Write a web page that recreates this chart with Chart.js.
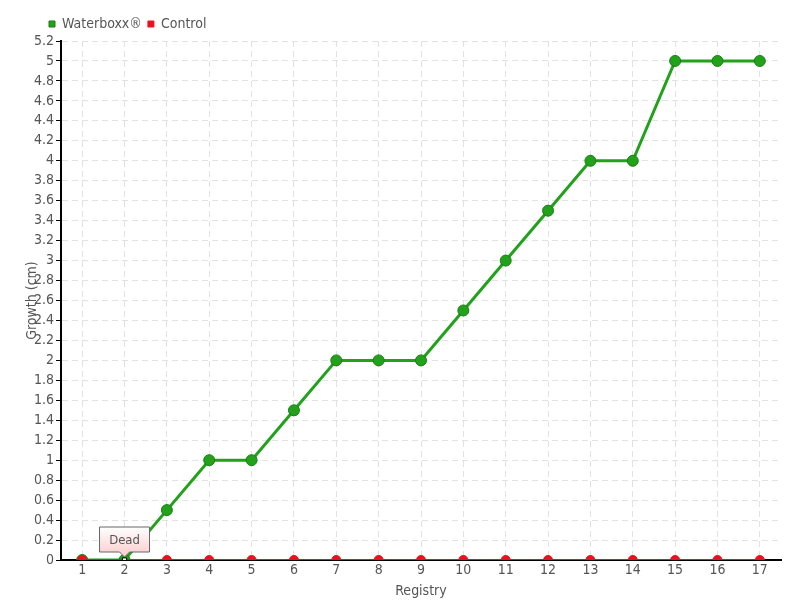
<!DOCTYPE html>
<html>
<head>
<meta charset="utf-8">
<script src="https://cdn.jsdelivr.net/npm/chart.js@4/dist/chart.umd.min.js"></script>
<style>
    body { margin: 0; background: #fff; }
    .wrap { width: 800px; height: 600px; }
</style>
</head>
<body>
<div class="wrap">
    <canvas id="growthChart" width="800" height="600"></canvas>
</div>
<script>
    // registry numbers on the x axis
    const registry = ['1', '2', '3', '4', '5', '6', '7', '8', '9', '10', '11', '12', '13', '14', '15', '16', '17']
    const waterboxx = [0, 0, 0.5, 1, 1, 1.5, 2, 2, 2, 2.5, 3, 3.5, 4, 4, 5, 5, 5]
    const control = [0, 0, 0, 0, 0, 0, 0, 0, 0, 0, 0, 0, 0, 0, 0, 0, 0]
    const notes = ['', 'Dead', '', '', '', '', '', '', '', '', '', '', '', '', '', '', '']

    const green = '#22a11b'
    const red = '#ec1020'
    const textColor = '#555'
    const fontFamily = "'DejaVu Sans Condensed', 'Liberation Sans Narrow', sans-serif"

    Chart.defaults.font.family = fontFamily
    Chart.defaults.font.size = 14
    Chart.defaults.color = textColor

    // little callout box above points that carry a note
    const noteBoxes = {
        id: 'noteBoxes',
        afterLayout(chart) {
            // push the legend in line with the plot, like the original
            chart.legend.left = 43
        },
        afterDatasetsDraw(chart) {
            const ctx = chart.ctx
            const xs = chart.scales.x
            const ys = chart.scales.y
            notes.forEach((txt, i) => {
                if (!txt) return
                const px = xs.getPixelForValue(i)
                const py = ys.getPixelForValue(control[i])
                const w = 50, h = 25
                const left = px - w / 2, top = py - 8 - h
                ctx.save()
                const grad = ctx.createLinearGradient(0, top, 0, top + h)
                grad.addColorStop(0, '#ffffff')
                grad.addColorStop(1, '#fbd3d3')
                ctx.beginPath()
                ctx.moveTo(left, top)
                ctx.lineTo(left + w, top)
                ctx.lineTo(left + w, top + h)
                ctx.lineTo(px + 5, top + h)
                ctx.lineTo(px, top + h + 5)
                ctx.lineTo(px - 5, top + h)
                ctx.lineTo(left, top + h)
                ctx.closePath()
                ctx.fillStyle = grad
                ctx.fill()
                ctx.strokeStyle = '#666'
                ctx.lineWidth = 1
                ctx.stroke()
                ctx.fillStyle = textColor
                ctx.font = '13px ' + fontFamily
                ctx.textAlign = 'center'
                ctx.textBaseline = 'middle'
                ctx.fillText(txt, px, top + h / 2 + 1)
                ctx.restore()
            })
        }
    }

    const data = {
        labels: registry,
        datasets: [{
            label: 'Waterboxx®',
            data: waterboxx,
            borderColor: green,
            backgroundColor: green,
            pointBackgroundColor: green,
            pointBorderColor: '#1a7d15',
            pointBorderWidth: 1,
            pointRadius: 5.5,
            borderWidth: 3,
            order: 1
        }, {
            label: 'Control',
            data: control,
            borderColor: red,
            backgroundColor: red,
            pointBackgroundColor: control.map((v, i) => notes[i] ? '#ffffff' : red),
            pointBorderColor: control.map((v, i) => notes[i] ? '#000000' : red),
            pointStyle: control.map((v, i) => notes[i] ? 'rect' : 'circle'),
            pointRadius: control.map((v, i) => notes[i] ? 3 : 4.5),
            pointBorderWidth: 1,
            borderWidth: 2,
            order: 0
        }]
    }

    const config = {
        type: 'line',
        data: data,
        options: {
            responsive: false,
            animation: false,
            layout: { padding: { left: 0, right: 19, top: 11, bottom: 0 } },
            plugins: {
                tooltip: { enabled: false },
                legend: {
                    align: 'start',
                    labels: {
                        usePointStyle: true,
                        pointStyle: 'rect',
                        boxWidth: 6,
                        boxHeight: 6,
                        padding: 6,
                        color: textColor,
                        sort: (a, b) => a.datasetIndex - b.datasetIndex
                    }
                }
            },
            scales: {
                x: {
                    offset: true,
                    grid: {
                        offset: false,
                        color: '#e2e2e2',
                        tickLength: 2,
                        tickColor: 'rgba(0,0,0,0)'
                    },
                    border: { color: '#000', width: 2, dash: [6, 4] },
                    ticks: { padding: 0, color: textColor, maxRotation: 0 },
                    title: { display: true, text: 'Registry', color: textColor, padding: { top: 10, bottom: 0 } },
                    afterFit: (s) => { s.height = 40 }
                },
                y: {
                    min: 0,
                    max: 5.2,
                    grid: {
                        color: '#e2e2e2',
                        tickLength: 5,
                        tickColor: '#000'
                    },
                    border: { color: '#000', width: 2, dash: [6, 4] },
                    ticks: {
                        stepSize: 0.2,
                        padding: 2,
                        color: textColor,
                        callback: (v) => +v.toFixed(1)
                    },
                    title: { display: true, text: 'Growth (cm)', color: textColor, padding: { top: 24, bottom: 0 } },
                    afterFit: (s) => { s.width = 61 }
                }
            }
        },
        plugins: [noteBoxes]
    }

    const growthChart = new Chart(document.getElementById('growthChart'), config)
</script>
</body>
</html>
